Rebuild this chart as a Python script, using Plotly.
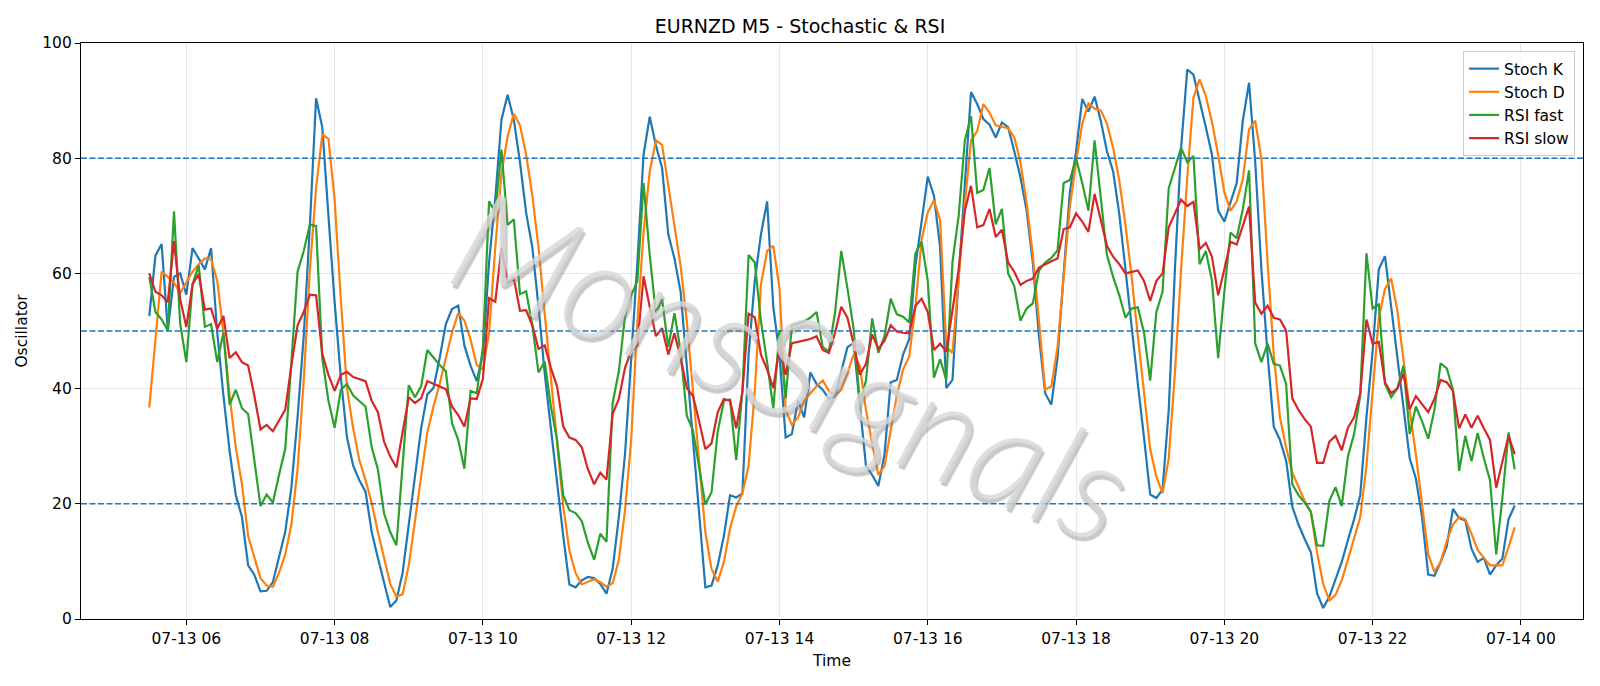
import pandas as pd
import plotly.graph_objects as go

start_time = "2025-07-13 05:30"
n_points = 222

stoch_k = [52.6, 63.1, 65.1, 50.1, 59.4, 60.0, 56.3, 64.4, 62.6, 60.7,
           64.4, 49.7, 38.8, 29.2, 21.5, 17.7, 9.3, 7.7, 4.8, 4.9,
           6.4, 10.6, 15.1, 22.8, 35.0, 49.1, 68.4, 90.4, 85.4, 70.0,
           55.0, 42.0, 31.5, 26.6, 24.1, 22.1, 15.1, 10.6, 6.1, 2.1,
           3.2, 8.0, 16.4, 24.7, 33.1, 39.0, 40.1, 45.3, 51.2, 53.8,
           54.4, 47.5, 44.0, 41.3, 46.0, 62.0, 73.0, 86.7, 91.0, 86.7,
           79.3, 70.5, 64.5, 54.2, 42.7, 33.1, 23.4, 14.4, 6.0, 5.5,
           6.7, 7.3, 7.1, 6.1, 4.4, 8.7, 17.7, 28.6, 45.3, 61.9,
           80.6, 87.2, 82.2, 78.3, 66.8, 62.6, 56.8, 44.0, 29.8, 17.0,
           5.5, 5.8, 9.3, 14.4, 21.5, 21.1, 21.8, 45.9, 58.7, 66.8,
           72.5, 54.2, 45.9, 31.5, 32.1, 37.9, 35.0, 42.8, 40.8, 39.8,
           38.2, 38.7, 43.0, 47.2, 47.9, 37.5, 26.6, 25.0, 23.1, 28.6,
           41.1, 41.5, 45.9, 48.6, 61.3, 69.0, 76.8, 73.5, 64.5, 40.1,
           41.5, 59.4, 74.8, 91.5, 89.4, 86.8, 85.8, 83.6, 86.2, 85.4,
           81.2, 76.7, 70.9, 61.9, 49.1, 39.2, 37.2, 45.3, 60.0, 74.1,
           81.2, 90.3, 88.1, 90.7, 86.5, 81.2, 77.7, 70.3, 60.7, 50.4,
           40.8, 31.5, 21.6, 21.0, 22.5, 36.3, 60.7, 81.8, 95.4, 94.5,
           90.2, 85.4, 80.6, 70.9, 69.0, 72.5, 75.7, 86.6, 93.1, 79.3,
           60.7, 45.9, 33.4, 31.1, 27.5, 19.5, 16.4, 13.9, 11.6, 4.5,
           1.9, 3.9, 7.1, 9.9, 13.7, 17.3, 21.5, 35.0, 46.5, 60.7,
           63.0, 54.2, 44.6, 36.3, 27.9, 24.4, 17.7, 7.7, 7.5, 9.9,
           12.6, 19.1, 17.5, 17.1, 12.2, 9.9, 10.6, 7.7, 9.3, 10.5,
           17.3, 19.7]

stoch_d = [36.7, 48.5, 60.3, 59.4, 58.4, 56.6, 58.4, 60.3, 61.6, 62.6,
           62.5, 58.7, 49.7, 38.8, 29.8, 23.4, 14.4, 10.6, 7.1, 5.8,
           5.6, 8.0, 11.2, 16.4, 26.0, 41.4, 60.7, 74.8, 84.1, 83.4,
           72.8, 55.5, 40.0, 33.1, 27.6, 24.1, 20.2, 15.1, 10.6, 6.1,
           3.9, 4.3, 9.3, 17.0, 25.4, 32.4, 36.9, 40.8, 45.3, 49.7,
           53.1, 51.8, 48.5, 44.1, 43.3, 49.7, 64.5, 77.3, 83.8, 87.7,
           85.7, 80.6, 73.5, 64.5, 53.0, 41.4, 30.5, 19.6, 11.9, 8.0,
           6.0, 6.4, 6.9, 6.4, 5.6, 6.2, 10.3, 18.9, 31.1, 51.7,
           67.1, 77.7, 83.1, 82.3, 75.4, 68.4, 61.3, 51.7, 39.5, 26.6,
           15.1, 8.7, 6.5, 9.9, 15.7, 19.6, 21.8, 26.6, 39.5, 58.1,
           63.9, 64.8, 57.4, 36.3, 33.7, 35.0, 37.9, 39.2, 40.4, 41.4,
           39.6, 38.8, 39.8, 42.7, 45.9, 44.0, 36.3, 30.5, 25.0, 26.6,
           33.1, 38.8, 43.3, 45.6, 54.2, 65.8, 70.6, 72.7, 69.3, 47.2,
           46.2, 59.4, 72.2, 83.1, 84.7, 89.4, 87.9, 85.7, 85.4, 85.2,
           83.6, 79.3, 72.2, 63.2, 51.7, 39.8, 40.4, 47.2, 59.4, 71.6,
           79.3, 86.0, 89.5, 88.6, 88.3, 86.0, 81.8, 76.1, 68.4, 59.4,
           49.1, 38.8, 29.5, 24.7, 21.8, 27.9, 42.7, 60.7, 76.7, 90.5,
           93.7, 90.8, 86.3, 80.6, 74.1, 70.9, 72.5, 76.4, 85.0, 86.5,
           79.9, 61.9, 45.9, 35.0, 29.8, 25.4, 22.8, 20.5, 18.6, 11.6,
           6.1, 3.2, 4.2, 6.7, 10.3, 13.8, 17.7, 26.6, 38.8, 52.3,
           57.3, 59.1, 53.6, 44.6, 36.3, 28.6, 19.6, 11.2, 8.2, 9.9,
           13.5, 16.4, 17.7, 17.3, 14.8, 12.0, 10.6, 9.3, 9.3, 9.3,
           12.5, 15.9]

rsi_fast = [59.4, 53.3, 52.0, 50.1, 70.8, 51.3, 44.6, 58.1, 61.4, 50.7,
            51.2, 44.6, 49.7, 37.2, 39.8, 36.6, 35.6, 27.9, 19.6, 21.6,
            20.2, 25.0, 29.5, 44.6, 60.3, 63.9, 68.5, 68.2, 45.3, 37.9,
            33.2, 39.8, 40.8, 38.8, 37.9, 36.9, 29.8, 26.0, 18.3, 15.1,
            12.8, 27.0, 40.6, 38.5, 40.4, 46.7, 45.4, 44.1, 43.0, 34.0,
            31.1, 26.1, 39.6, 39.2, 47.2, 72.5, 70.6, 81.5, 68.4, 69.4,
            56.4, 56.9, 51.0, 42.8, 44.7, 36.9, 31.1, 21.5, 18.9, 18.4,
            17.0, 13.2, 10.3, 14.8, 13.4, 37.5, 43.0, 52.6, 56.2, 58.7,
            75.7, 63.2, 53.0, 55.5, 47.2, 53.1, 46.5, 35.3, 32.7, 26.6,
            19.9, 22.0, 32.5, 37.9, 38.1, 27.6, 39.5, 63.2, 61.9, 51.7,
            44.6, 36.5, 50.1, 38.3, 51.0, 51.3, 51.7, 52.3, 53.3, 47.2,
            46.5, 53.3, 63.9, 57.4, 50.4, 37.5, 41.4, 52.2, 46.2, 49.1,
            55.6, 52.9, 52.5, 51.5, 63.5, 65.5, 58.7, 41.9, 45.1, 41.5,
            62.0, 70.0, 83.1, 87.3, 74.0, 74.5, 78.3, 68.5, 71.2, 60.0,
            57.8, 51.8, 53.9, 54.8, 60.5, 61.9, 62.7, 64.0, 75.7, 76.2,
            80.0, 75.7, 70.9, 83.1, 73.5, 63.2, 59.4, 56.2, 52.3, 53.9,
            54.1, 49.7, 41.4, 53.3, 56.8, 74.8, 78.3, 81.8, 79.3, 80.4,
            61.6, 63.9, 58.7, 45.3, 56.8, 67.1, 66.1, 71.2, 77.9, 47.8,
            44.6, 47.8, 44.3, 44.0, 40.8, 23.4, 21.5, 20.2, 18.6, 12.8,
            12.7, 20.5, 22.9, 19.6, 28.2, 32.1, 38.8, 63.5, 53.9, 54.6,
            40.8, 38.5, 40.0, 44.0, 32.1, 36.9, 34.3, 31.3, 36.3, 44.4,
            43.5, 39.8, 25.7, 31.8, 27.4, 32.3, 27.9, 24.1, 11.2, 21.0,
            32.4, 26.0]

rsi_slow = [60.0, 56.8, 56.2, 55.0, 65.6, 55.5, 50.7, 58.1, 59.9, 53.7,
            53.9, 50.4, 52.6, 45.3, 46.3, 44.6, 44.0, 38.8, 32.9, 33.7,
            32.6, 34.5, 36.3, 44.0, 51.0, 53.3, 56.3, 56.2, 46.0, 42.4,
            39.6, 42.4, 42.9, 42.0, 41.7, 41.3, 37.9, 35.9, 30.8, 28.2,
            26.3, 32.4, 38.5, 37.5, 38.3, 41.3, 40.8, 40.3, 39.9, 36.9,
            35.4, 33.4, 38.3, 38.2, 41.7, 55.7, 55.1, 64.4, 58.4, 59.2,
            53.5, 53.6, 51.0, 46.9, 47.5, 43.6, 40.4, 33.4, 31.5, 31.1,
            29.8, 26.0, 23.4, 25.4, 24.2, 35.6, 38.2, 43.6, 46.5, 47.5,
            59.5, 54.2, 49.1, 50.5, 45.9, 49.6, 45.3, 40.1, 38.7, 34.3,
            29.5, 30.5, 35.9, 38.2, 37.9, 33.1, 39.5, 53.0, 52.4, 45.9,
            43.3, 40.1, 47.2, 42.4, 47.9, 48.1, 48.3, 48.6, 49.1, 46.7,
            46.2, 49.7, 54.2, 52.3, 47.8, 42.4, 44.3, 49.4, 46.9, 48.3,
            51.0, 49.9, 49.7, 49.6, 54.4, 55.6, 53.3, 46.7, 47.8, 46.4,
            53.6, 60.7, 70.9, 75.2, 68.0, 68.4, 71.2, 66.3, 67.6, 61.9,
            60.3, 58.0, 58.7, 59.1, 61.0, 61.6, 62.1, 62.6, 67.7, 68.0,
            70.4, 69.0, 67.2, 73.8, 69.0, 64.8, 62.9, 61.6, 60.0, 60.3,
            60.5, 58.7, 55.2, 58.7, 60.0, 68.0, 70.3, 72.8, 71.7, 72.4,
            64.2, 65.3, 62.9, 56.2, 60.7, 65.5, 65.0, 68.4, 71.6, 54.9,
            53.0, 54.4, 52.3, 52.0, 50.1, 38.3, 36.3, 34.7, 33.4, 27.1,
            27.1, 30.8, 31.8, 29.3, 33.2, 35.0, 39.2, 52.0, 47.8, 48.1,
            41.1, 39.2, 40.0, 42.6, 36.4, 38.7, 37.4, 35.9, 38.2, 41.5,
            41.1, 39.6, 33.1, 35.5, 33.2, 35.3, 33.1, 31.1, 22.8, 27.3,
            31.8, 28.6]

levels = [20, 50, 80]
y_ticks = [0, 20, 40, 60, 80, 100]

times = pd.date_range(start_time, periods=n_points, freq="5min")

series = [
    ("Stoch K", stoch_k, "#1f77b4"),
    ("Stoch D", stoch_d, "#ff7f0e"),
    ("RSI fast", rsi_fast, "#2ca02c"),
    ("RSI slow", rsi_slow, "#d62728"),
]

FONT = "DejaVu Sans"
TICK = 15.5

fig = go.Figure()
for name, vals, color in series:
    fig.add_trace(go.Scatter(x=times, y=vals, mode="lines", name=name,
                             line=dict(color=color, width=2.2)))

for lv in levels:
    fig.add_hline(y=lv, line=dict(color="#1f77b4", width=1.4, dash="6px,2.5px"))

span = times[-1] - times[0]
pad = span * 0.05
x_range = [times[0] - pad, times[-1] + pad]

fig.add_annotation(text="MonsSignals", xref="paper", yref="paper", x=0.475, y=0.445,
                   showarrow=False, textangle=22,
                   font=dict(family="Lato", size=142, color="rgba(215,215,215,0.8)",
                             shadow="3px 3px 1px rgba(130,130,130,0.55)", style="italic",
                             weight=300))

fig.update_layout(
    width=1600, height=686,
    margin=dict(l=81, r=17, t=43, b=67),
    paper_bgcolor="white", plot_bgcolor="white",
    font=dict(family=FONT, size=TICK, color="black"),
    title=dict(text="EURNZD M5 - Stochastic & RSI", x=0.5, xanchor="center",
               y=1 - 26.5 / 686, yanchor="middle", font=dict(size=19, color="black")),
    legend=dict(x=0.9947, y=0.986, xanchor="right", yanchor="top",
                bgcolor="rgba(255,255,255,0.8)", bordercolor="#cccccc", borderwidth=1,
                font=dict(size=TICK)),
    showlegend=True,
)

fig.update_xaxes(
    range=x_range, type="date",
    tick0="2025-07-13 00:00", dtick=2 * 3600 * 1000, tickformat="%m-%d %H",
    showgrid=True, gridcolor="rgba(176,176,176,0.3)", gridwidth=1.2,
    showline=True, linecolor="black", linewidth=1.2, mirror=True,
    ticks="outside", ticklen=5, tickcolor="black",
    title=dict(text="Time", font=dict(size=TICK), standoff=8),
    zeroline=False,
)
fig.update_yaxes(
    range=[0, 100], tickvals=y_ticks,
    showgrid=True, gridcolor="rgba(176,176,176,0.3)", gridwidth=1.2,
    showline=True, linecolor="black", linewidth=1.2, mirror=True,
    ticks="outside", ticklen=5, tickcolor="black",
    title=dict(text="Oscillator", font=dict(size=TICK), standoff=10),
    zeroline=False,
)

fig.write_html("out.html")
